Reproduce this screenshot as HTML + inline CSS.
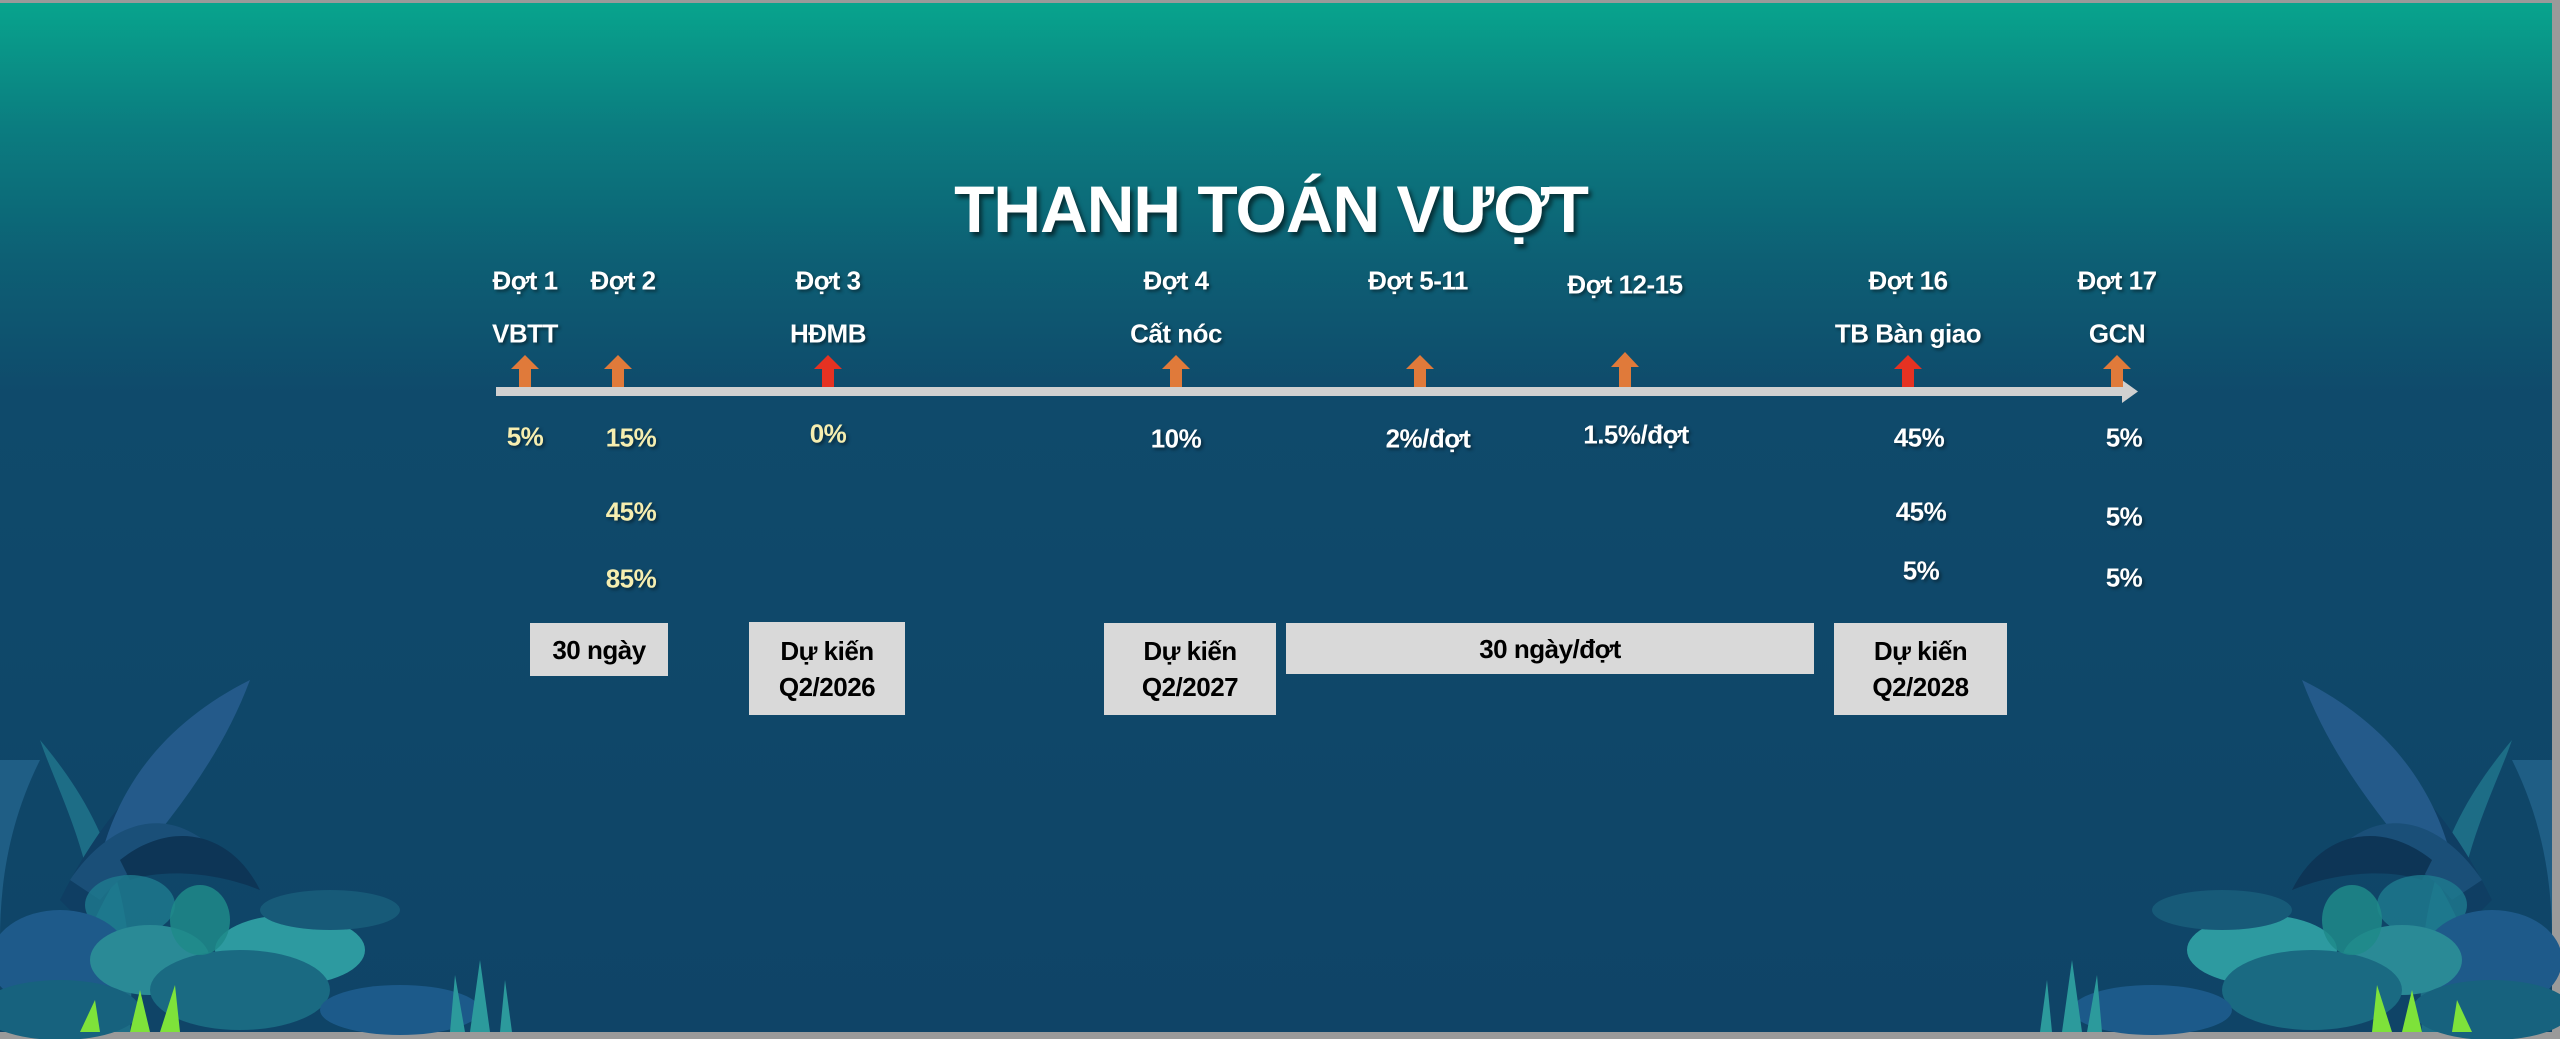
<!DOCTYPE html>
<html><head><meta charset="utf-8"><style>
html,body{margin:0;padding:0}
body{width:2560px;height:1039px;position:relative;overflow:hidden;background:#9a9a9a;font-family:"Liberation Sans",sans-serif}
#bg{position:absolute;left:0;top:3px;width:2552px;height:1029px;background:linear-gradient(180deg,#08a48d 0%,#0b7d80 12%,#0d5f74 25%,#0f4a6b 38%,#0f4467 100%)}
.t{position:absolute;transform:translate(-50%,-50%);font-weight:bold;white-space:nowrap;font-size:26px;color:#fff;letter-spacing:-0.5px;text-shadow:2px 2px 3px rgba(0,0,0,.45)}
.y{color:#f6eeb0}
.box{position:absolute;background:#d9d9d9;color:#000;font-weight:bold;font-size:26px;display:flex;align-items:center;justify-content:center;text-align:center;line-height:36px;letter-spacing:-0.5px}
h1{position:absolute;left:1271px;top:209px;transform:translate(-50%,-50%);margin:0;font-size:66px;color:#fff;font-weight:bold;white-space:nowrap;text-shadow:3px 4px 4px rgba(0,0,0,.55);letter-spacing:-1px}
</style></head><body>
<div id="bg"></div>
<svg width="2560" height="1039" style="position:absolute;left:0;top:0">
<defs>
<g id="pl">
<path d="M90,1032 C120,900 60,800 40,740 C90,800 140,880 130,1032Z" fill="#1d6d86"/>
<path d="M60,900 C100,820 150,760 210,740 C170,800 120,860 90,930Z" fill="#0f3e63"/>
<path d="M100,860 C120,780 170,720 250,680 C220,760 170,820 120,880Z" fill="#245a8a"/>
<path d="M70,880 C110,820 180,790 240,880 C200,850 150,840 100,900Z" fill="#1a4f78"/>
<path d="M40,760 C10,820 0,880 0,940 L0,760Z" fill="#1f5e85"/>
<path d="M120,860 C170,820 230,830 260,890 C210,870 160,870 130,880Z" fill="#0d3556"/>
<ellipse cx="130" cy="905" rx="45" ry="30" fill="#1e7b8e" opacity=".8"/>
<ellipse cx="60" cy="960" rx="70" ry="50" fill="#1e5a8a"/>
<ellipse cx="150" cy="960" rx="60" ry="35" fill="#2a8a96"/>
<ellipse cx="290" cy="950" rx="75" ry="35" fill="#2d9aa0"/>
<ellipse cx="240" cy="990" rx="90" ry="40" fill="#1a6a82"/>
<ellipse cx="330" cy="910" rx="70" ry="20" fill="#175a78"/>
<ellipse cx="200" cy="920" rx="30" ry="35" fill="#1e8a8a" opacity=".85"/>
<ellipse cx="400" cy="1010" rx="80" ry="25" fill="#1c5a8a"/>
<ellipse cx="60" cy="1010" rx="80" ry="30" fill="#17627e"/>
<path d="M130,1032 L140,990 L150,1032Z M160,1032 L175,985 L180,1032Z M80,1032 L95,1000 L100,1032Z" fill="#7ee23a"/>
<path d="M470,1032 L480,960 L490,1032Z M450,1032 L455,975 L465,1032Z M500,1032 L505,980 L512,1032Z" fill="#2c9a9c"/>
</g>
</defs>
<use href="#pl"/>
<use href="#pl" transform="translate(2552,0) scale(-1,1)"/>
<rect x="496" y="387" width="1628" height="9" fill="#d0d0d0"/>
<polygon points="2122,380 2138,391.5 2122,403" fill="#d0d0d0"/>
<g id="arrows">
</g>
</svg>
<svg width="2560" height="1039" style="position:absolute;left:0;top:0">
<g fill="#e07a3a">
<path d="M519,387 v-18 h-8 l14,-14 l14,14 h-8 v18z"/>
<path d="M612,387 v-18 h-8 l14,-14 l14,14 h-8 v18z"/>
<path d="M1170,387 v-18 h-8 l14,-14 l14,14 h-8 v18z"/>
<path d="M1414,387 v-18 h-8 l14,-14 l14,14 h-8 v18z"/>
<path d="M1619,387 v-20 h-8 l14,-15 l14,15 h-8 v20z"/>
<path d="M2111,387 v-18 h-8 l14,-14 l14,14 h-8 v18z"/>
</g>
<g fill="#e63222">
<path d="M822,387 v-18 h-8 l14,-14 l14,14 h-8 v18z"/>
<path d="M1902,387 v-18 h-8 l14,-14 l14,14 h-8 v18z"/>
</g>
</svg>
<h1>THANH TOÁN VƯỢT</h1>
<div class="t" style="left:525px;top:281px">Đợt 1</div>
<div class="t" style="left:623px;top:281px">Đợt 2</div>
<div class="t" style="left:828px;top:281px">Đợt 3</div>
<div class="t" style="left:1176px;top:281px">Đợt 4</div>
<div class="t" style="left:1418px;top:281px">Đợt 5-11</div>
<div class="t" style="left:1625px;top:285px">Đợt 12-15</div>
<div class="t" style="left:1908px;top:281px">Đợt 16</div>
<div class="t" style="left:2117px;top:281px">Đợt 17</div>
<div class="t" style="left:525px;top:334px">VBTT</div>
<div class="t" style="left:828px;top:334px">HĐMB</div>
<div class="t" style="left:1176px;top:334px">Cất nóc</div>
<div class="t" style="left:1908px;top:334px">TB Bàn giao</div>
<div class="t" style="left:2117px;top:334px">GCN</div>
<div class="t y" style="left:525px;top:437px">5%</div>
<div class="t y" style="left:631px;top:438px">15%</div>
<div class="t y" style="left:828px;top:434px">0%</div>
<div class="t" style="left:1176px;top:439px">10%</div>
<div class="t" style="left:1428px;top:439px">2%/đợt</div>
<div class="t" style="left:1636px;top:435px">1.5%/đợt</div>
<div class="t" style="left:1919px;top:438px">45%</div>
<div class="t" style="left:2124px;top:438px">5%</div>
<div class="t y" style="left:631px;top:512px">45%</div>
<div class="t" style="left:1921px;top:512px">45%</div>
<div class="t" style="left:2124px;top:517px">5%</div>
<div class="t y" style="left:631px;top:579px">85%</div>
<div class="t" style="left:1921px;top:571px">5%</div>
<div class="t" style="left:2124px;top:578px">5%</div>
<div class="box" style="left:530px;top:623px;width:138px;height:53px">30 ngày</div>
<div class="box" style="left:749px;top:622px;width:156px;height:93px">Dự kiến<br>Q2/2026</div>
<div class="box" style="left:1104px;top:623px;width:172px;height:92px">Dự kiến<br>Q2/2027</div>
<div class="box" style="left:1286px;top:623px;width:528px;height:51px">30 ngày/đợt</div>
<div class="box" style="left:1834px;top:623px;width:173px;height:92px">Dự kiến<br>Q2/2028</div>
</body></html>
